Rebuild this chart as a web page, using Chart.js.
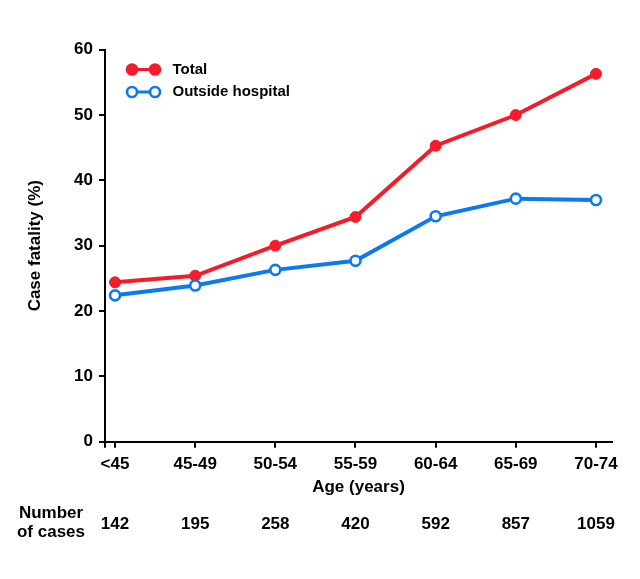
<!DOCTYPE html>
<html>
<head>
<meta charset="utf-8">
<script src="https://cdn.jsdelivr.net/npm/chart.js@4/dist/chart.umd.min.js"></script>
<style>
  body { margin: 0; background: #fff; }
  #wrap { width: 640px; height: 579px; }
</style>
</head>
<body>
<div id="wrap"><canvas id="myChart"></canvas></div>
<script>
// age groups, case fatality (%) and number of cases
var ageGroups = ['<45', '45-49', '50-54', '55-59', '60-64', '65-69', '70-74'];
var totalValues = [24.4, 25.4, 30.0, 34.4, 45.3, 50.0, 56.3];
var outsideValues = [22.4, 23.9, 26.3, 27.7, 34.5, 37.2, 37.0];
var numberOfCases = [142, 195, 258, 420, 592, 857, 1059];
var yTicks = [0, 10, 20, 30, 40, 50, 60];

var red = 'rgb(243, 28, 42)';
var blue = 'rgb(12, 121, 240)';
var fontFamily = '"Liberation Sans", Arial, sans-serif';

Chart.defaults.font.family = fontFamily;
Chart.defaults.color = '#000';

var extras = {
    id: 'extras',
    afterDraw: function (chart) {
        var c = chart.ctx;
        var x = chart.scales.x;
        c.save();
        // legend
        var items = [
            { text: 'Total', color: red, fill: red, y: 69.5 },
            { text: 'Outside hospital', color: blue, fill: '#fff', y: 92 }
        ];
        items.forEach(function (it) {
            c.strokeStyle = it.color;
            c.lineWidth = 3;
            c.beginPath();
            c.moveTo(132, it.y);
            c.lineTo(155, it.y);
            c.stroke();
            [132, 155].forEach(function (cx) {
                c.beginPath();
                if (it.fill === '#fff') {
                    c.arc(cx, it.y, 5, 0, Math.PI * 2);
                    c.fillStyle = '#fff';
                    c.fill();
                    c.lineWidth = 2.6;
                    c.stroke();
                } else {
                    c.arc(cx, it.y, 6.3, 0, Math.PI * 2);
                    c.fillStyle = it.fill;
                    c.fill();
                }
            });
            c.fillStyle = '#000';
            c.font = 'bold 15px ' + fontFamily;
            c.textAlign = 'left';
            c.textBaseline = 'middle';
            c.fillText(it.text, 172.5, it.y);
        });
        // number of cases row
        c.font = 'bold 17px ' + fontFamily;
        c.textAlign = 'center';
        c.textBaseline = 'alphabetic';
        c.fillText('Number', 51, 517.5);
        c.fillText('of cases', 51, 536.5);
        numberOfCases.forEach(function (n, i) {
            c.fillText(String(n), x.getPixelForValue(i), 529);
        });
        c.restore();
    }
};

var ctx = document.getElementById('myChart').getContext('2d');
var myChart = new Chart(ctx, {
    type: 'line',
    data: {
        datasets: [{
            label: 'Total',
            data: totalValues.map(function (v, i) { return { x: i, y: v }; }),
            borderColor: red,
            backgroundColor: red,
            pointBackgroundColor: red,
            pointBorderColor: red,
            pointRadius: 5.5,
            pointBorderWidth: 1,
            borderWidth: 4,
            order: 2
        }, {
            label: 'Outside hospital',
            data: outsideValues.map(function (v, i) { return { x: i, y: v }; }),
            borderColor: blue,
            backgroundColor: '#fff',
            pointBackgroundColor: '#fff',
            pointBorderColor: blue,
            pointRadius: 5,
            pointBorderWidth: 2.6,
            borderWidth: 4,
            order: 1
        }]
    },
    options: {
        responsive: true,
        maintainAspectRatio: false,
        animation: false,
        layout: { padding: { top: 49.7, right: 28, left: 0, bottom: 0 } },
        plugins: {
            legend: { display: false },
            tooltip: { enabled: false }
        },
        scales: {
            x: {
                type: 'linear',
                min: -0.125,
                max: 6.2,
                afterFit: function (s) { s.height = 137.3; },
                afterBuildTicks: function (s) {
                    s.ticks = [{ value: -0.125 }].concat(ageGroups.map(function (_, i) { return { value: i }; }));
                },
                border: { display: true, color: '#000', width: 2 },
                grid: { drawOnChartArea: false, color: '#000', lineWidth: 2, tickLength: 6 },
                ticks: {
                    autoSkip: false,
                    maxRotation: 0,
                    padding: 6,
                    color: '#000',
                    font: { size: 17, weight: 'bold' },
                    callback: function (v) { return Number.isInteger(v) ? ageGroups[v] : ''; }
                },
                title: {
                    display: true,
                    text: 'Age (years)',
                    color: '#000',
                    font: { size: 17, weight: 'bold' },
                    padding: { top: 0, bottom: 81 }
                }
            },
            y: {
                min: 0,
                max: 60,
                afterFit: function (s) { s.width = 105; },
                afterBuildTicks: function (s) {
                    s.ticks = yTicks.map(function (v) { return { value: v }; });
                },
                border: { display: true, color: '#000', width: 2 },
                grid: { drawOnChartArea: false, color: '#000', lineWidth: 2, tickLength: 6 },
                ticks: {
                    padding: 6,
                    color: '#000',
                    font: { size: 17, weight: 'bold' }
                },
                title: {
                    display: true,
                    text: 'Case fatality (%)',
                    color: '#000',
                    font: { size: 17, weight: 'bold' },
                    padding: { top: 25, bottom: 0 }
                }
            }
        }
    },
    plugins: [extras]
});
</script>
</body>
</html>
